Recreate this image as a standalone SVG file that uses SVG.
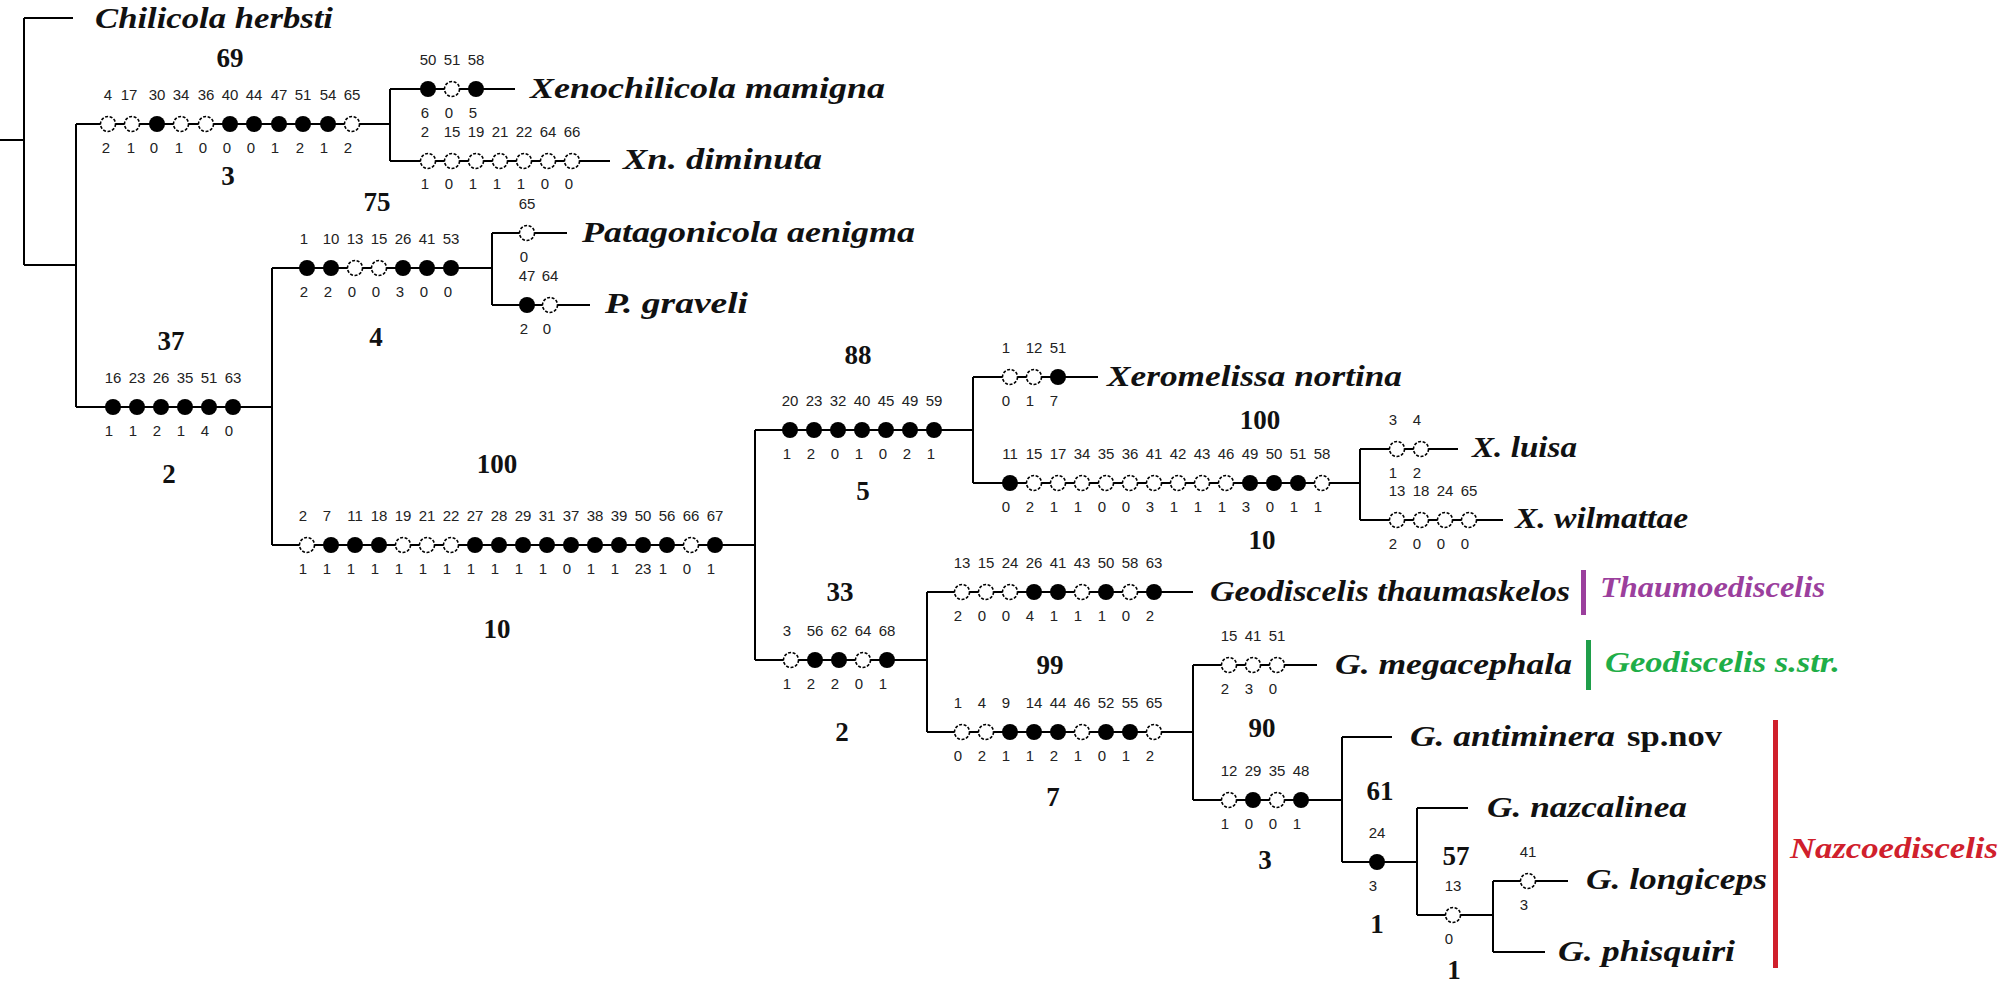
<svg xmlns="http://www.w3.org/2000/svg" xmlns:xlink="http://www.w3.org/1999/xlink" width="2008" height="987" viewBox="0 0 2008 987">
<style>
.ln{fill:none;stroke:#000;stroke-width:2}
.n{font-family:"Liberation Sans",Arial,sans-serif;font-size:15px;fill:#222;text-anchor:middle}
.s{font-family:"Liberation Serif","Times New Roman",serif;font-size:27px;font-weight:bold;fill:#111;text-anchor:middle}
.t{font-family:"Liberation Serif","Times New Roman",serif;font-size:30px;font-weight:bold;font-style:italic;fill:#111}
.tn{font-family:"Liberation Serif","Times New Roman",serif;font-size:30px;font-weight:bold;fill:#111}
</style>
<defs>
<circle id="o" r="7.5" fill="#fff" stroke="#000" stroke-width="1.6" stroke-dasharray="3 1.6"/>
<circle id="f" r="8" fill="#000"/>
</defs>
<rect width="2008" height="987" fill="#fff"/>
<g id="connectors" class="ln">
<path d="M0,140H24M24,18V265M24,18H73M24,265H76M76,124V407"/>
<path d="M76,124H390M390,89V161M390,89H515M390,161H610"/>
<path d="M76,407H272M272,268V545"/>
<path d="M272,268H492M492,233V305M492,233H567M492,305H590"/>
<path d="M272,545H755M755,430V660"/>
<path d="M755,430H973M973,377V483M973,377H1098M973,483H1360M1360,449V520M1360,449H1458M1360,520H1503"/>
<path d="M755,660H927M927,592V732M927,592H1193M927,732H1193M1193,665V800M1193,665H1317M1193,800H1342M1342,737V862M1342,737H1392M1342,862H1417M1417,808V915M1417,808H1468M1417,915H1493M1493,881V952M1493,881H1568M1493,952H1545"/>
</g>
<g id="taxa">
<text id="chilicola" class="t" x="95" y="28" textLength="238" lengthAdjust="spacingAndGlyphs">Chilicola herbsti</text>
<text id="xmamigna" class="t" x="530" y="98" textLength="355" lengthAdjust="spacingAndGlyphs">Xenochilicola mamigna</text>
<text id="xndiminuta" class="t" x="623" y="169" textLength="199" lengthAdjust="spacingAndGlyphs">Xn. diminuta</text>
<text id="paenigma" class="t" x="582" y="242" textLength="333" lengthAdjust="spacingAndGlyphs">Patagonicola aenigma</text>
<text id="pgraveli" class="t" x="605" y="313" textLength="143" lengthAdjust="spacingAndGlyphs">P. graveli</text>
<text id="xnortina" class="t" x="1107" y="386" textLength="295" lengthAdjust="spacingAndGlyphs">Xeromelissa nortina</text>
<text id="xluisa" class="t" x="1472" y="457" textLength="105" lengthAdjust="spacingAndGlyphs">X. luisa</text>
<text id="xwilmattae" class="t" x="1515" y="528" textLength="173" lengthAdjust="spacingAndGlyphs">X. wilmattae</text>
<text id="gthaum" class="t" x="1210" y="601" textLength="360" lengthAdjust="spacingAndGlyphs">Geodiscelis thaumaskelos</text>
<text id="gmega" class="t" x="1335" y="674" textLength="237" lengthAdjust="spacingAndGlyphs">G. megacephala</text>
<g id="gantiminera">
<text class="t" x="1410" y="746" textLength="205" lengthAdjust="spacingAndGlyphs">G. antiminera</text>
<text class="tn" x="1627" y="746" textLength="95" lengthAdjust="spacingAndGlyphs">sp.nov</text>
</g>
<text id="gnazcalinea" class="t" x="1487" y="817" textLength="200" lengthAdjust="spacingAndGlyphs">G. nazcalinea</text>
<text id="glongiceps" class="t" x="1586" y="889" textLength="181" lengthAdjust="spacingAndGlyphs">G. longiceps</text>
<text id="gphisquiri" class="t" x="1558" y="961" textLength="177" lengthAdjust="spacingAndGlyphs">G. phisquiri</text>
</g>
<g id="clade-thaumoediscelis">
<rect x="1581" y="570" width="5" height="45" fill="#9b3f9d"/>
<text class="t" x="1600" y="597" textLength="225" lengthAdjust="spacingAndGlyphs" fill="#9b3f9d" style="fill:#9b3f9d">Thaumoediscelis</text>
</g>
<g id="clade-geodiscelis">
<rect x="1586" y="640" width="5" height="50" fill="#1f9e4a"/>
<text class="t" x="1605" y="672" textLength="235" lengthAdjust="spacingAndGlyphs" style="fill:#1fae48">Geodiscelis s.str.</text>
</g>
<g id="clade-nazcoediscelis">
<rect x="1773" y="720" width="5" height="248" fill="#d0202c"/>
<text class="t" x="1790" y="858" textLength="208" lengthAdjust="spacingAndGlyphs" style="fill:#d0202c">Nazcoediscelis</text>
</g>
<g id="b69">
<use href="#o" x="108" y="124"/><use href="#o" x="132" y="124"/><use href="#f" x="157" y="124"/><use href="#o" x="181" y="124"/><use href="#o" x="206" y="124"/><use href="#f" x="230" y="124"/><use href="#f" x="254" y="124"/><use href="#f" x="279" y="124"/><use href="#f" x="303" y="124"/><use href="#f" x="328" y="124"/><use href="#o" x="352" y="124"/>
<text class="n" y="100"><tspan x="108">4</tspan><tspan x="129">17</tspan><tspan x="157">30</tspan><tspan x="181">34</tspan><tspan x="206">36</tspan><tspan x="230">40</tspan><tspan x="254">44</tspan><tspan x="279">47</tspan><tspan x="303">51</tspan><tspan x="328">54</tspan><tspan x="352">65</tspan></text>
<text class="n" y="153"><tspan x="106">2</tspan><tspan x="131">1</tspan><tspan x="154">0</tspan><tspan x="179">1</tspan><tspan x="203">0</tspan><tspan x="227">0</tspan><tspan x="251">0</tspan><tspan x="275">1</tspan><tspan x="300">2</tspan><tspan x="324">1</tspan><tspan x="348">2</tspan></text>
<text class="s" x="230" y="67">69</text><text class="s" x="228" y="185">3</text>
</g>
<g id="b-mamigna">
<use href="#f" x="428" y="89"/><use href="#o" x="452" y="89"/><use href="#f" x="476" y="89"/>
<text class="n" y="65"><tspan x="428">50</tspan><tspan x="452">51</tspan><tspan x="476">58</tspan></text>
<text class="n" y="118"><tspan x="425">6</tspan><tspan x="449">0</tspan><tspan x="473">5</tspan></text>
</g>
<g id="b-diminuta">
<use href="#o" x="428" y="161"/><use href="#o" x="452" y="161"/><use href="#o" x="476" y="161"/><use href="#o" x="500" y="161"/><use href="#o" x="524" y="161"/><use href="#o" x="548" y="161"/><use href="#o" x="572" y="161"/>
<text class="n" y="137"><tspan x="425">2</tspan><tspan x="452">15</tspan><tspan x="476">19</tspan><tspan x="500">21</tspan><tspan x="524">22</tspan><tspan x="548">64</tspan><tspan x="572">66</tspan></text>
<text class="n" y="189"><tspan x="425">1</tspan><tspan x="449">0</tspan><tspan x="473">1</tspan><tspan x="497">1</tspan><tspan x="521">1</tspan><tspan x="545">0</tspan><tspan x="569">0</tspan></text>
</g>
<g id="b37">
<use href="#f" x="113" y="407"/><use href="#f" x="137" y="407"/><use href="#f" x="161" y="407"/><use href="#f" x="185" y="407"/><use href="#f" x="209" y="407"/><use href="#f" x="233" y="407"/>
<text class="n" y="383"><tspan x="113">16</tspan><tspan x="137">23</tspan><tspan x="161">26</tspan><tspan x="185">35</tspan><tspan x="209">51</tspan><tspan x="233">63</tspan></text>
<text class="n" y="436"><tspan x="109">1</tspan><tspan x="133">1</tspan><tspan x="157">2</tspan><tspan x="181">1</tspan><tspan x="205">4</tspan><tspan x="229">0</tspan></text>
<text class="s" x="171" y="350">37</text><text class="s" x="169" y="483">2</text>
</g>
<g id="b75">
<use href="#f" x="307" y="268"/><use href="#f" x="331" y="268"/><use href="#o" x="355" y="268"/><use href="#o" x="379" y="268"/><use href="#f" x="403" y="268"/><use href="#f" x="427" y="268"/><use href="#f" x="451" y="268"/>
<text class="n" y="244"><tspan x="304">1</tspan><tspan x="331">10</tspan><tspan x="355">13</tspan><tspan x="379">15</tspan><tspan x="403">26</tspan><tspan x="427">41</tspan><tspan x="451">53</tspan></text>
<text class="n" y="297"><tspan x="304">2</tspan><tspan x="328">2</tspan><tspan x="352">0</tspan><tspan x="376">0</tspan><tspan x="400">3</tspan><tspan x="424">0</tspan><tspan x="448">0</tspan></text>
<text class="s" x="377" y="211">75</text><text class="s" x="376" y="346">4</text>
</g>
<g id="b-aenigma">
<use href="#o" x="527" y="233"/>
<text class="n" x="527" y="209">65</text><text class="n" x="524" y="262">0</text>
</g>
<g id="b-graveli">
<use href="#f" x="527" y="305"/><use href="#o" x="550" y="305"/>
<text class="n" y="281"><tspan x="527">47</tspan><tspan x="550">64</tspan></text>
<text class="n" y="334"><tspan x="524">2</tspan><tspan x="547">0</tspan></text>
</g>
<g id="b100a">
<use href="#o" x="307" y="545"/><use href="#f" x="331" y="545"/><use href="#f" x="355" y="545"/><use href="#f" x="379" y="545"/><use href="#o" x="403" y="545"/><use href="#o" x="427" y="545"/><use href="#o" x="451" y="545"/><use href="#f" x="475" y="545"/><use href="#f" x="499" y="545"/><use href="#f" x="523" y="545"/><use href="#f" x="547" y="545"/><use href="#f" x="571" y="545"/><use href="#f" x="595" y="545"/><use href="#f" x="619" y="545"/><use href="#f" x="643" y="545"/><use href="#f" x="667" y="545"/><use href="#o" x="691" y="545"/><use href="#f" x="715" y="545"/>
<text class="n" y="521"><tspan x="303">2</tspan><tspan x="327">7</tspan><tspan x="355">11</tspan><tspan x="379">18</tspan><tspan x="403">19</tspan><tspan x="427">21</tspan><tspan x="451">22</tspan><tspan x="475">27</tspan><tspan x="499">28</tspan><tspan x="523">29</tspan><tspan x="547">31</tspan><tspan x="571">37</tspan><tspan x="595">38</tspan><tspan x="619">39</tspan><tspan x="643">50</tspan><tspan x="667">56</tspan><tspan x="691">66</tspan><tspan x="715">67</tspan></text>
<text class="n" y="574"><tspan x="303">1</tspan><tspan x="327">1</tspan><tspan x="351">1</tspan><tspan x="375">1</tspan><tspan x="399">1</tspan><tspan x="423">1</tspan><tspan x="447">1</tspan><tspan x="471">1</tspan><tspan x="495">1</tspan><tspan x="519">1</tspan><tspan x="543">1</tspan><tspan x="567">0</tspan><tspan x="591">1</tspan><tspan x="615">1</tspan><tspan x="643">23</tspan><tspan x="663">1</tspan><tspan x="687">0</tspan><tspan x="711">1</tspan></text>
<text class="s" x="497" y="473">100</text><text class="s" x="497" y="638">10</text>
</g>
<g id="b88">
<use href="#f" x="790" y="430"/><use href="#f" x="814" y="430"/><use href="#f" x="838" y="430"/><use href="#f" x="862" y="430"/><use href="#f" x="886" y="430"/><use href="#f" x="910" y="430"/><use href="#f" x="934" y="430"/>
<text class="n" y="406"><tspan x="790">20</tspan><tspan x="814">23</tspan><tspan x="838">32</tspan><tspan x="862">40</tspan><tspan x="886">45</tspan><tspan x="910">49</tspan><tspan x="934">59</tspan></text>
<text class="n" y="459"><tspan x="787">1</tspan><tspan x="811">2</tspan><tspan x="835">0</tspan><tspan x="859">1</tspan><tspan x="883">0</tspan><tspan x="907">2</tspan><tspan x="931">1</tspan></text>
<text class="s" x="858" y="364">88</text><text class="s" x="863" y="500">5</text>
</g>
<g id="b-nortina">
<use href="#o" x="1010" y="377"/><use href="#o" x="1034" y="377"/><use href="#f" x="1058" y="377"/>
<text class="n" y="353"><tspan x="1006">1</tspan><tspan x="1034">12</tspan><tspan x="1058">51</tspan></text>
<text class="n" y="406"><tspan x="1006">0</tspan><tspan x="1030">1</tspan><tspan x="1054">7</tspan></text>
</g>
<g id="b100b">
<use href="#f" x="1010" y="483"/><use href="#o" x="1034" y="483"/><use href="#o" x="1058" y="483"/><use href="#o" x="1082" y="483"/><use href="#o" x="1106" y="483"/><use href="#o" x="1130" y="483"/><use href="#o" x="1154" y="483"/><use href="#o" x="1178" y="483"/><use href="#o" x="1202" y="483"/><use href="#o" x="1226" y="483"/><use href="#f" x="1250" y="483"/><use href="#f" x="1274" y="483"/><use href="#f" x="1298" y="483"/><use href="#o" x="1322" y="483"/>
<text class="n" y="459"><tspan x="1010">11</tspan><tspan x="1034">15</tspan><tspan x="1058">17</tspan><tspan x="1082">34</tspan><tspan x="1106">35</tspan><tspan x="1130">36</tspan><tspan x="1154">41</tspan><tspan x="1178">42</tspan><tspan x="1202">43</tspan><tspan x="1226">46</tspan><tspan x="1250">49</tspan><tspan x="1274">50</tspan><tspan x="1298">51</tspan><tspan x="1322">58</tspan></text>
<text class="n" y="512"><tspan x="1006">0</tspan><tspan x="1030">2</tspan><tspan x="1054">1</tspan><tspan x="1078">1</tspan><tspan x="1102">0</tspan><tspan x="1126">0</tspan><tspan x="1150">3</tspan><tspan x="1174">1</tspan><tspan x="1198">1</tspan><tspan x="1222">1</tspan><tspan x="1246">3</tspan><tspan x="1270">0</tspan><tspan x="1294">1</tspan><tspan x="1318">1</tspan></text>
<text class="s" x="1260" y="429">100</text><text class="s" x="1262" y="549">10</text>
</g>
<g id="b-luisa">
<use href="#o" x="1397" y="449"/><use href="#o" x="1421" y="449"/>
<text class="n" y="425"><tspan x="1393">3</tspan><tspan x="1417">4</tspan></text>
<text class="n" y="478"><tspan x="1393">1</tspan><tspan x="1417">2</tspan></text>
</g>
<g id="b-wilmattae">
<use href="#o" x="1397" y="520"/><use href="#o" x="1421" y="520"/><use href="#o" x="1445" y="520"/><use href="#o" x="1469" y="520"/>
<text class="n" y="496"><tspan x="1397">13</tspan><tspan x="1421">18</tspan><tspan x="1445">24</tspan><tspan x="1469">65</tspan></text>
<text class="n" y="549"><tspan x="1393">2</tspan><tspan x="1417">0</tspan><tspan x="1441">0</tspan><tspan x="1465">0</tspan></text>
</g>
<g id="b33">
<use href="#o" x="791" y="660"/><use href="#f" x="815" y="660"/><use href="#f" x="839" y="660"/><use href="#o" x="863" y="660"/><use href="#f" x="887" y="660"/>
<text class="n" y="636"><tspan x="787">3</tspan><tspan x="815">56</tspan><tspan x="839">62</tspan><tspan x="863">64</tspan><tspan x="887">68</tspan></text>
<text class="n" y="689"><tspan x="787">1</tspan><tspan x="811">2</tspan><tspan x="835">2</tspan><tspan x="859">0</tspan><tspan x="883">1</tspan></text>
<text class="s" x="840" y="601">33</text><text class="s" x="842" y="741">2</text>
</g>
<g id="b-thaum">
<use href="#o" x="962" y="592"/><use href="#o" x="986" y="592"/><use href="#o" x="1010" y="592"/><use href="#f" x="1034" y="592"/><use href="#f" x="1058" y="592"/><use href="#o" x="1082" y="592"/><use href="#f" x="1106" y="592"/><use href="#o" x="1130" y="592"/><use href="#f" x="1154" y="592"/>
<text class="n" y="568"><tspan x="962">13</tspan><tspan x="986">15</tspan><tspan x="1010">24</tspan><tspan x="1034">26</tspan><tspan x="1058">41</tspan><tspan x="1082">43</tspan><tspan x="1106">50</tspan><tspan x="1130">58</tspan><tspan x="1154">63</tspan></text>
<text class="n" y="621"><tspan x="958">2</tspan><tspan x="982">0</tspan><tspan x="1006">0</tspan><tspan x="1030">4</tspan><tspan x="1054">1</tspan><tspan x="1078">1</tspan><tspan x="1102">1</tspan><tspan x="1126">0</tspan><tspan x="1150">2</tspan></text>
</g>
<g id="b99">
<use href="#o" x="962" y="732"/><use href="#o" x="986" y="732"/><use href="#f" x="1010" y="732"/><use href="#f" x="1034" y="732"/><use href="#f" x="1058" y="732"/><use href="#o" x="1082" y="732"/><use href="#f" x="1106" y="732"/><use href="#f" x="1130" y="732"/><use href="#o" x="1154" y="732"/>
<text class="n" y="708"><tspan x="958">1</tspan><tspan x="982">4</tspan><tspan x="1006">9</tspan><tspan x="1034">14</tspan><tspan x="1058">44</tspan><tspan x="1082">46</tspan><tspan x="1106">52</tspan><tspan x="1130">55</tspan><tspan x="1154">65</tspan></text>
<text class="n" y="761"><tspan x="958">0</tspan><tspan x="982">2</tspan><tspan x="1006">1</tspan><tspan x="1030">1</tspan><tspan x="1054">2</tspan><tspan x="1078">1</tspan><tspan x="1102">0</tspan><tspan x="1126">1</tspan><tspan x="1150">2</tspan></text>
<text class="s" x="1050" y="674">99</text><text class="s" x="1053" y="806">7</text>
</g>
<g id="b-mega">
<use href="#o" x="1229" y="665"/><use href="#o" x="1253" y="665"/><use href="#o" x="1277" y="665"/>
<text class="n" y="641"><tspan x="1229">15</tspan><tspan x="1253">41</tspan><tspan x="1277">51</tspan></text>
<text class="n" y="694"><tspan x="1225">2</tspan><tspan x="1249">3</tspan><tspan x="1273">0</tspan></text>
</g>
<g id="b90">
<use href="#o" x="1229" y="800"/><use href="#f" x="1253" y="800"/><use href="#o" x="1277" y="800"/><use href="#f" x="1301" y="800"/>
<text class="n" y="776"><tspan x="1229">12</tspan><tspan x="1253">29</tspan><tspan x="1277">35</tspan><tspan x="1301">48</tspan></text>
<text class="n" y="829"><tspan x="1225">1</tspan><tspan x="1249">0</tspan><tspan x="1273">0</tspan><tspan x="1297">1</tspan></text>
<text class="s" x="1262" y="737">90</text><text class="s" x="1265" y="869">3</text>
</g>
<g id="b61">
<use href="#f" x="1377" y="862"/>
<text class="n" x="1377" y="838">24</text><text class="n" x="1373" y="891">3</text>
<text class="s" x="1380" y="800">61</text><text class="s" x="1377" y="933">1</text>
</g>
<g id="b57">
<use href="#o" x="1453" y="915"/>
<text class="n" x="1453" y="891">13</text><text class="n" x="1449" y="944">0</text>
<text class="s" x="1456" y="865">57</text><text class="s" x="1454" y="979">1</text>
</g>
<g id="b-longiceps">
<use href="#o" x="1528" y="881"/>
<text class="n" x="1528" y="857">41</text><text class="n" x="1524" y="910">3</text>
</g>
</svg>
